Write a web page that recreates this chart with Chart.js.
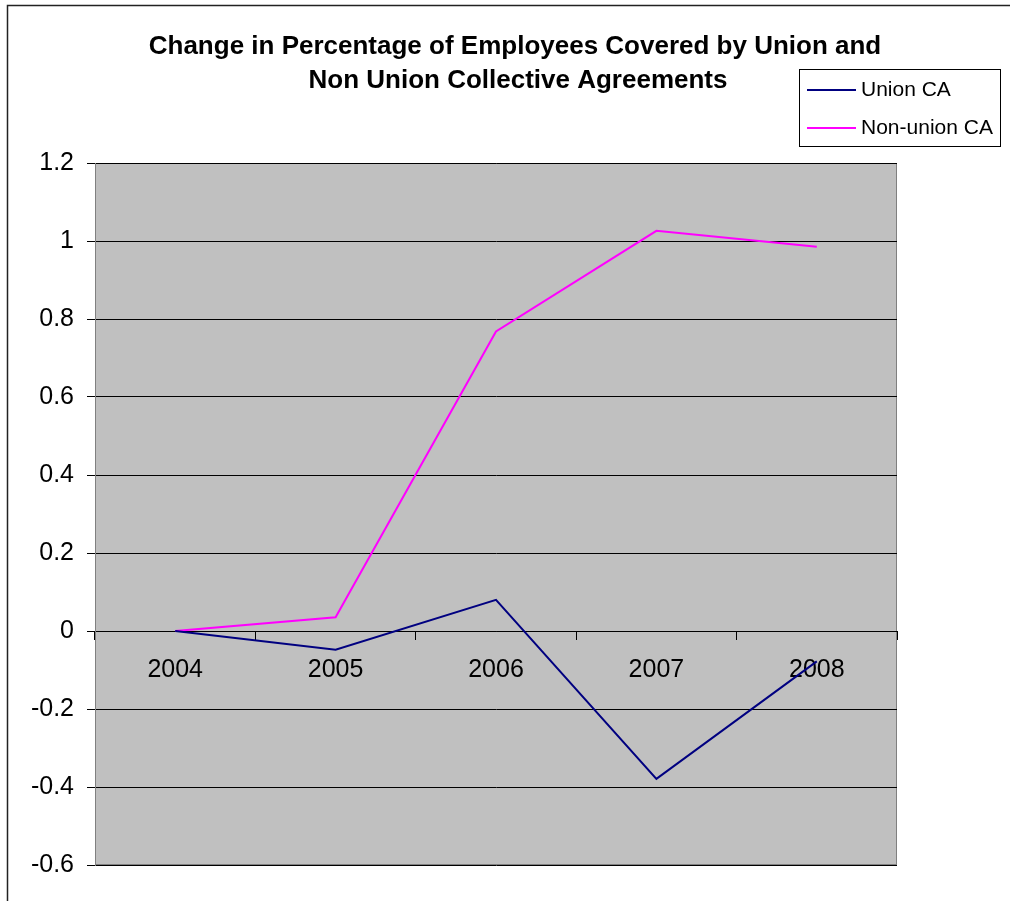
<!DOCTYPE html>
<html>
<head>
<meta charset="utf-8">
<script src="https://cdn.jsdelivr.net/npm/chart.js@4/dist/chart.umd.min.js"></script>
<style>
  html, body { margin: 0; padding: 0; background: #fff; }
  #wrap { width: 1010px; height: 901px; position: relative; }
</style>
</head>
<body>
<div id="wrap"><canvas id="caChart" width="1010" height="901"></canvas></div>
<script>
  // Chart data
  const years = ['2004', '2005', '2006', '2007', '2008'];
  const unionCA = [0, -0.048, 0.08, -0.379, -0.078];
  const nonUnionCA = [0, 0.035, 0.768, 1.026, 0.985];
  const titleLines = ['Change in Percentage of Employees Covered by Union and', 'Non Union Collective Agreements'];

  const FONT = '"Liberation Sans", Arial, sans-serif';

  // Background, outer frame, grey plot area, title and legend box
  const framePlugin = {
    id: 'frame',
    beforeDraw(chart) {
      const ctx = chart.ctx;
      const a = chart.chartArea;
      ctx.save();
      ctx.fillStyle = '#ffffff';
      ctx.fillRect(0, 0, chart.width, chart.height);
      ctx.strokeStyle = '#222';
      ctx.lineWidth = 1.5;
      ctx.beginPath();
      ctx.moveTo(7.5, chart.height);
      ctx.lineTo(7.5, 5.5);
      ctx.lineTo(chart.width, 5.5);
      ctx.stroke();
      ctx.fillStyle = '#c0c0c0';
      ctx.fillRect(a.left, a.top, a.right - a.left, a.bottom - a.top);
      ctx.strokeStyle = '#808080';
      ctx.lineWidth = 1;
      ctx.strokeRect(a.left + 0.5, a.top + 0.5, a.right - a.left - 1, a.bottom - a.top - 1);
      ctx.restore();
    },
    afterDraw(chart) {
      const ctx = chart.ctx;
      ctx.save();
      // title
      ctx.fillStyle = '#000';
      ctx.font = 'bold 26px ' + FONT;
      ctx.textAlign = 'center';
      ctx.textBaseline = 'alphabetic';
      ctx.fillText(titleLines[0], 515, 54);
      ctx.fillText(titleLines[1], 518, 88);
      // legend
      ctx.fillStyle = '#fff';
      ctx.fillRect(799.5, 69.5, 201, 77);
      ctx.strokeStyle = '#000';
      ctx.lineWidth = 1;
      ctx.strokeRect(799.5, 69.5, 201, 77);
      ctx.font = '21px ' + FONT;
      ctx.textAlign = 'left';
      ctx.textBaseline = 'middle';
      chart.data.datasets.forEach((ds, i) => {
        const y = 90 + i * 38;
        ctx.strokeStyle = ds.borderColor;
        ctx.lineWidth = 2;
        ctx.beginPath();
        ctx.moveTo(807, y);
        ctx.lineTo(856, y);
        ctx.stroke();
        ctx.fillStyle = '#000';
        ctx.fillText(ds.label, 861, y);
      });
      ctx.restore();
    }
  };

  const ctx = document.getElementById('caChart').getContext('2d');
  const caChart = new Chart(ctx, {
    type: 'line',
    data: {
      labels: years,
      datasets: [{
        label: 'Union CA',
        data: unionCA,
        borderColor: '#000080',
        borderWidth: 2,
        pointRadius: 0,
        tension: 0,
        fill: false
      }, {
        label: 'Non-union CA',
        data: nonUnionCA,
        borderColor: '#ff00ff',
        borderWidth: 2,
        pointRadius: 0,
        tension: 0,
        fill: false
      }]
    },
    options: {
      responsive: false,
      animation: false,
      layout: {
        padding: { left: 0, top: 163, right: 113, bottom: 36 }
      },
      plugins: {
        legend: { display: false },
        title: { display: false },
        tooltip: { enabled: false }
      },
      scales: {
        x: {
          type: 'category',
          position: { y: 0 },
          offset: true,
          grid: {
            offset: true,
            drawOnChartArea: false,
            drawTicks: true,
            tickLength: 8,
            color: '#000'
          },
          border: { display: true, color: '#000', width: 1 },
          ticks: {
            color: '#000',
            font: { family: FONT, size: 25 },
            padding: 16,
            maxRotation: 0
          }
        },
        y: {
          min: -0.6,
          max: 1.2,
          afterFit(scale) { scale.width = 95; },
          grid: {
            color: '#000',
            tickLength: 8,
            drawTicks: true
          },
          border: { display: true, color: '#808080' },
          ticks: {
            stepSize: 0.2,
            color: '#000',
            font: { family: FONT, size: 25 },
            padding: 13,
            callback: v => String(Number(v.toFixed(1)))
          }
        }
      }
    },
    plugins: [framePlugin]
  });
</script>
</body>
</html>
